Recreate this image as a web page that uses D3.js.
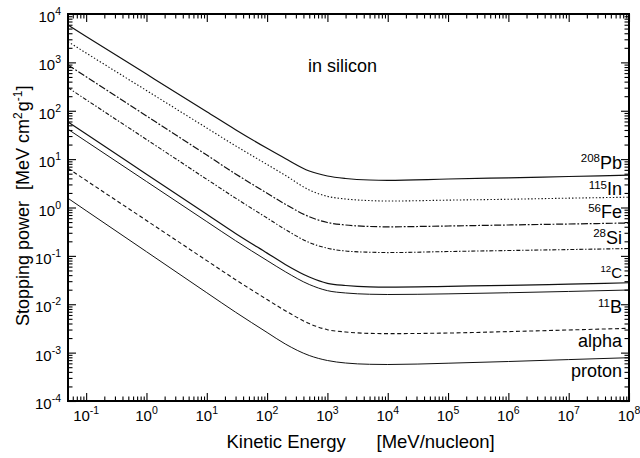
<!DOCTYPE html>
<html><head><meta charset="utf-8">
<script src="https://cdn.jsdelivr.net/npm/d3@7"></script>
<style>
html,body{margin:0;padding:0;background:#fff;}
svg text{font-family:"Liberation Sans",Arial,Helvetica,sans-serif;fill:#000;}
</style></head>
<body>
<svg id="chart" width="640" height="458"></svg>
<script>
// ---- data ----
const energy = [0.05, 0.1, 1, 10, 30, 100, 200, 500, 1000, 2000, 5000, 1e4, 1e5, 1e6, 1e7, 1e8];
const pb208  = [5900, 3440, 572, 95.3, 40.6, 16.7, 10.3, 5.68, 4.48, 3.98, 3.70, 3.65, 3.88, 4.11, 4.37, 4.65];
const in115  = [2680, 1560, 262, 44.0, 18.8, 7.74, 4.63, 2.30, 1.70, 1.50, 1.39, 1.36, 1.42, 1.48, 1.56, 1.63];
const fe56   = [883, 503, 77.9, 12.1, 4.95, 1.97, 1.17, 0.643, 0.490, 0.435, 0.405, 0.399, 0.415, 0.435, 0.456, 0.478];
const si28   = [300, 169, 25.5, 3.83, 1.56, 0.607, 0.351, 0.189, 0.144, 0.126, 0.119, 0.117, 0.123, 0.129, 0.135, 0.142];
const c12    = [58.6, 32.9, 4.88, 0.724, 0.291, 0.114, 0.0666, 0.0366, 0.0271, 0.0244, 0.0229, 0.0227, 0.0235, 0.0246, 0.0261, 0.0278];
const b11    = [41.4, 23.3, 3.45, 0.511, 0.206, 0.0802, 0.0471, 0.0256, 0.0191, 0.0171, 0.0161, 0.0159, 0.0164, 0.0173, 0.0184, 0.0197];
const alpha  = [6.46, 3.63, 0.539, 0.0798, 0.0322, 0.0125, 0.00736, 0.00398, 0.00298, 0.00267, 0.00250, 0.00247, 0.00254, 0.00272, 0.00294, 0.00318];
const proton = [1.55, 0.859, 0.122, 0.0173, 0.00685, 0.00261, 0.00151, 0.000872, 0.000687, 0.00061, 0.000574, 0.000568, 0.000604, 0.000655, 0.000718, 0.000785];

const seriesValues = [pb208, in115, fe56, si28, c12, b11, alpha, proton];
const labelSup  = ["208", "115", "56", "28", "12", "11", "", ""];
const labelBase = ["Pb", "In", "Fe", "Si", "C", "B", "alpha", "proton"];

const xTickExponents = [-1, 0, 1, 2, 3, 4, 5, 6, 7, 8];
const yTickExponents = [-4, -3, -2, -1, 0, 1, 2, 3, 4];
const xTitleParts = ["Kinetic Energy", "[MeV/nucleon]"];
const noteText = "in silicon";

// ---- styles / layout ----
const dashes = [null, "1.4,2", "7,1.8,1.8,1.8", "4,1.8,1.4,1.8", null, null, "4,2.6", null];
const widths = [1.2, 1.1, 1.2, 1.1, 1.2, 1.0, 1.1, 1.0];
const labelDy = [-6.5, -2, -4.7, -5, -4.4, 23.3, 19, 19];
const labelSize = [18, 18, 18, 18, 15, 18, 18, 18];

const svg = d3.select("#chart");
const L = 68, R = 629, T = 14, B = 401;
const x = d3.scaleLog().domain([0.05, 1e8]).range([L, R]);
const y = d3.scaleLog().domain([1e-4, 1e4]).range([B, T]);

const xMajor = xTickExponents.map(e => Math.pow(10, e));
const yMajor = yTickExponents.map(e => Math.pow(10, e));
function minors(lo, hi, kLo, kHi) {
  const out = [];
  for (let k = kLo; k <= kHi; k++) for (let d = 2; d <= 9; d++) {
    const v = d * Math.pow(10, k);
    if (v > lo * 1.0001 && v < hi * 0.9999) out.push(v);
  }
  return out;
}
const xMinor = minors(0.05, 1e8, -2, 7);
const yMinor = minors(1e-4, 1e4, -4, 3);

const majLen = 8, minLen = 4.5;
function axisGroup(axisFn, scale, vals, len, tr) {
  const g = svg.append("g").attr("transform", tr)
    .call(axisFn(scale).tickValues(vals).tickSize(-len).tickFormat(""));
  g.select(".domain").remove();
  g.selectAll(".tick line").attr("stroke", "#000").attr("stroke-width", 1.1);
  return g;
}
[[xMajor, majLen], [xMinor, minLen]].forEach(([v, l]) => {
  axisGroup(d3.axisBottom, x, v, l, `translate(0,${B})`);
  axisGroup(d3.axisTop, x, v, l, `translate(0,${T})`);
});
[[yMajor, majLen], [yMinor, minLen]].forEach(([v, l]) => {
  axisGroup(d3.axisLeft, y, v, l, `translate(${L},0)`);
  axisGroup(d3.axisRight, y, v, l, `translate(${R},0)`);
});

// tick labels
xMajor.forEach((v, i) => {
  const t = svg.append("text").attr("x", x(v)).attr("y", 421)
    .attr("text-anchor", "middle").style("font-size", "15px");
  t.append("tspan").text("10");
  t.append("tspan").attr("dy", -7).style("font-size", "10.5px").text(String(xTickExponents[i]));
});
yMajor.forEach((v, i) => {
  const t = svg.append("text").attr("x", 61).attr("y", y(v) + 8)
    .attr("text-anchor", "end").style("font-size", "15px");
  t.append("tspan").text("10");
  t.append("tspan").attr("dy", -7).style("font-size", "10.5px").text(String(yTickExponents[i]));
});

// clip + curves
svg.append("clipPath").attr("id", "clip").append("rect")
  .attr("x", L).attr("y", T).attr("width", R - L).attr("height", B - T);
const line = d3.line().x(d => x(d[0])).y(d => y(d[1])).curve(d3.curveMonotoneX);
seriesValues.forEach((vals, i) => {
  const pts = energy.map((e, j) => [e, vals[j]]);
  const p = svg.append("path").datum(pts).attr("d", line)
    .attr("fill", "none").attr("stroke", "#111").attr("stroke-width", widths[i])
    .attr("clip-path", "url(#clip)");
  if (dashes[i]) p.attr("stroke-dasharray", dashes[i]);
});

// frame
svg.append("rect").attr("x", L).attr("y", T).attr("width", R - L).attr("height", B - T)
  .attr("fill", "none").attr("stroke", "#000").attr("stroke-width", 2);

// curve labels
seriesValues.forEach((vals, i) => {
  const yy = y(vals[vals.length - 1]) + labelDy[i];
  const fs = labelSize[i];
  const t = svg.append("text").attr("x", 622).attr("y", yy).attr("text-anchor", "end")
    .style("font-size", fs + "px");
  if (labelSup[i]) {
    t.append("tspan").attr("dy", -6.5).style("font-size", (fs * 0.64) + "px").text(labelSup[i]);
    t.append("tspan").attr("dy", 6.5).text(labelBase[i]);
  } else {
    t.append("tspan").text(labelBase[i]);
  }
});

// note
svg.append("text").attr("x", 308).attr("y", 72).style("font-size", "18px").text(noteText);

// x title
svg.append("text").attr("x", 226.5).attr("y", 448).style("font-size", "18.5px").text(xTitleParts[0]);
svg.append("text").attr("x", 376.5).attr("y", 448).style("font-size", "18.5px").text(xTitleParts[1]);

// y title
const yt = svg.append("text").attr("transform", "translate(29,326) rotate(-90)")
  .style("font-size", "18px");
yt.append("tspan").text("Stopping power");
yt.append("tspan").attr("dx", 11).text("[MeV cm");
yt.append("tspan").attr("dy", -7).style("font-size", "12px").text("2");
yt.append("tspan").attr("dy", 7).attr("dx", 1).text("g");
yt.append("tspan").attr("dy", -7).style("font-size", "12px").text("-1");
yt.append("tspan").attr("dy", 7).text("]");
</script>
</body></html>
